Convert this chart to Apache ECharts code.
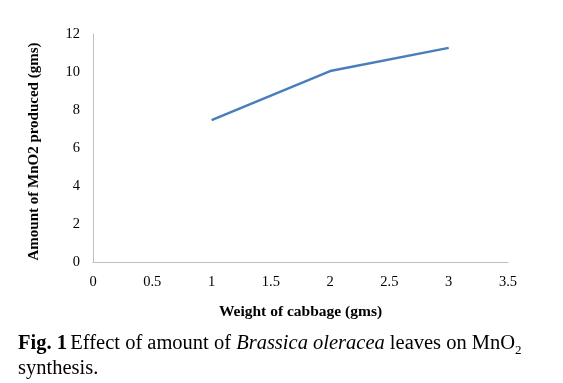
<!DOCTYPE html>
<html>
<head>
<meta charset="utf-8">
<script src="https://cdn.jsdelivr.net/npm/echarts@6/dist/echarts.min.js"></script>
<style>
html,body{margin:0;padding:0;background:#fff;}
#chart{width:563px;height:383px;}
</style>
</head>
<body>
<div id="chart"></div>
<script>
const weights = [1, 2, 3];
const mno2 = [7.47, 10.05, 11.27];
const xTitle = 'Weight of cabbage (gms)';
const yTitle = 'Amount of MnO2 produced (gms)';

const chart = echarts.init(document.getElementById('chart'));
const serif = '"Liberation Serif", "Times New Roman", serif';
chart.setOption({
  animation: false,
  backgroundColor: '#ffffff',
  grid: { left: 93, top: 34, right: 55, bottom: 121, containLabel: false },
  xAxis: {
    type: 'value', min: 0, max: 3.5, interval: 0.5,
    axisLine: { show: true, lineStyle: { color: '#bfbfbf', width: 1 } },
    axisTick: { show: false },
    splitLine: { show: false },
    axisLabel: { color: '#000', fontFamily: serif, fontSize: 14.5, margin: 13 },
    name: xTitle, nameLocation: 'middle', nameGap: 42,
    nameTextStyle: { color: '#000', fontFamily: serif, fontSize: 15.5, fontWeight: 'bold' }
  },
  yAxis: {
    type: 'value', min: 0, max: 12, interval: 2,
    axisLine: { show: true, lineStyle: { color: '#bfbfbf', width: 1 } },
    axisTick: { show: false },
    splitLine: { show: false },
    axisLabel: { color: '#000', fontFamily: serif, fontSize: 14.5, margin: 13 },
    name: yTitle, nameLocation: 'middle', nameGap: 51, nameRotate: 90,
    nameTextStyle: { color: '#000', fontFamily: serif, fontSize: 15, fontWeight: 'bold', padding: [0, 7, 0, 0] }
  },
  series: [{
    type: 'line',
    data: weights.map((w, i) => [w, mno2[i]]),
    showSymbol: false,
    lineStyle: { color: '#4a7ebb', width: 2.5 },
    itemStyle: { color: '#4a7ebb' }
  }],
  graphic: [{
    type: 'text',
    left: 18, top: 331,
    style: {
      text: '{b|Fig. 1} {n|Effect of amount of }{i|Brassica oleracea}{n| leaves on MnO}{s|2}\n{n|synthesis.}',
      fill: '#000',
      rich: {
        b: { fontFamily: serif, fontSize: 20.5, fontWeight: 'bold', lineHeight: 25 },
        n: { fontFamily: serif, fontSize: 20.5, lineHeight: 25 },
        i: { fontFamily: serif, fontSize: 20.5, fontStyle: 'italic', lineHeight: 25 },
        s: { fontFamily: serif, fontSize: 13, lineHeight: 25, padding: [13, 0, 0, 0] }
      }
    }
  }]
});
</script>
</body>
</html>
